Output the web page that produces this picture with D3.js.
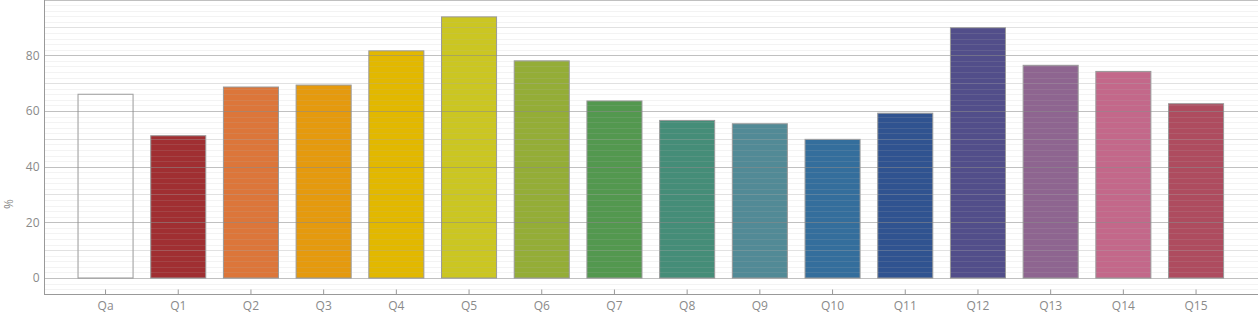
<!DOCTYPE html>
<html><head><meta charset="utf-8">
<script src="https://cdn.jsdelivr.net/npm/d3@7"></script>
<style>html,body{margin:0;padding:0;background:#fff;} svg{display:block;}</style>
</head><body><svg id="c" width="1258" height="315"></svg>
<script>
const categories = ["Qa","Q1","Q2","Q3","Q4","Q5","Q6","Q7","Q8","Q9","Q10","Q11","Q12","Q13","Q14","Q15"];
const values = [66, 51.1, 68.6, 69.3, 81.6, 93.8, 78, 63.6, 56.6, 55.4, 49.8, 59.2, 89.9, 76.4, 74.2, 62.6];
const colors = ["#ffffff","#a02f32","#dc763a","#e59a0e","#e2b800","#cbc622","#94ad37","#53984f","#458d78","#528a96","#346e9c","#305390","#524e8a","#8e6590","#c3688a","#ae4c5f"];
const yTicks = [0, 20, 40, 60, 80];
const yLabel = "%";

const svg = d3.select("#c");
const x = d3.scaleBand().domain(categories).range([44, 1257.6]).paddingInner(0.243).paddingOuter(0.468);
const y = d3.scaleLinear().domain([-6, 100]).range([294.7, -0.4]);

const grid = svg.append("g");
// bars
svg.append("g").selectAll("rect").data(categories).join("rect")
  .attr("x", d => x(d)).attr("width", x.bandwidth())
  .attr("y", (d,i) => y(values[i])).attr("height", (d,i) => y(0) - y(values[i]))
  .attr("fill", (d,i) => colors[i]).attr("stroke", "#999").attr("stroke-width", 1);

// gridlines on top
const g2 = svg.append("g");
const faint = d3.range(-4, 100, 2).filter(v => v % 10 !== 0);
const tens = d3.range(-0, 100, 10).filter(v => v % 20 !== 0);
const majors = d3.range(0, 101, 20);
g2.selectAll("line.f").data(faint).join("line").attr("class","f")
  .attr("x1", 45).attr("x2", 1258).attr("y1", d => Math.round(y(d))+0.5).attr("y2", d => Math.round(y(d))+0.5)
  .attr("stroke", "rgba(180,180,180,0.16)");
g2.selectAll("line.t").data(tens).join("line").attr("class","t")
  .attr("x1", 45).attr("x2", 1258).attr("y1", d => Math.round(y(d))+0.5).attr("y2", d => Math.round(y(d))+0.5)
  .attr("stroke", "rgba(170,170,170,0.35)");
g2.selectAll("line.m").data(majors).join("line").attr("class","m")
  .attr("x1", 45).attr("x2", 1258).attr("y1", d => Math.round(y(d))+0.5).attr("y2", d => Math.round(y(d))+0.5)
  .attr("stroke", "rgba(140,140,140,0.55)");

// y axis
const yAxis = svg.append("g").attr("transform", "translate(44.5,0)")
  .call(d3.axisLeft(y).tickValues(yTicks).tickSize(0).tickPadding(5));
yAxis.select(".domain").attr("stroke", "#999").attr("d", "M0,0V295");
yAxis.selectAll("text").attr("fill", "#8a8a8a").style("font-family", "'Open Sans', sans-serif").style("font-size", "12px");

// x axis
const xAxis = svg.append("g").attr("transform", "translate(0,294.5)")
  .call(d3.axisBottom(x).tickSize(-5).tickSizeOuter(0).tickPadding(4));
xAxis.select(".domain").attr("stroke", "#999").attr("d", "M44,0H1258");
xAxis.selectAll(".tick line").attr("stroke", "#999");
xAxis.selectAll("text").attr("fill", "#8a8a8a").attr("y", 5).attr("dy", "0.9em")
  .style("font-family", "'Open Sans', sans-serif").style("font-size", "12px");

svg.append("text").attr("transform", "translate(13,204) rotate(-90)")
  .attr("text-anchor", "middle").attr("fill", "#8a8a8a")
  .style("font-family", "'Open Sans', sans-serif").style("font-size", "12px").text(yLabel);
</script></body></html>
